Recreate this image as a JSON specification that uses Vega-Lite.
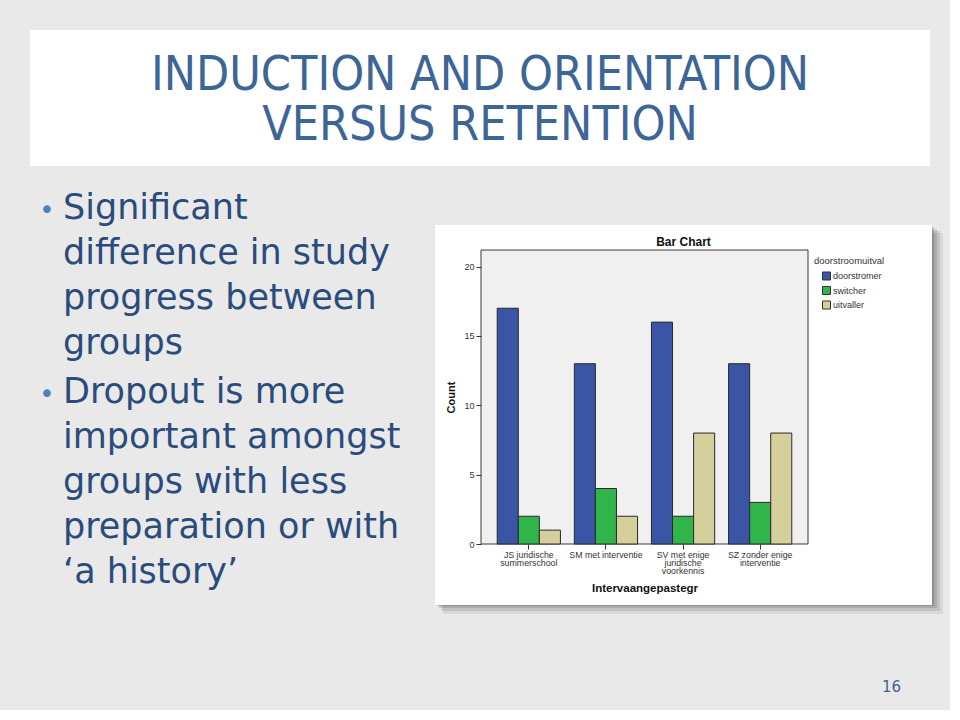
{
  "$schema": "https://vega.github.io/schema/vega-lite/v6.json",
  "background": "#e9e9e9",
  "padding": {"left": 30, "top": 30, "right": 7, "bottom": 15},
  "bounds": "flush",
  "spacing": 84,
  "resolve": {"legend": {"color": "independent"}},
  "title": {"text": "16", "orient": "bottom", "anchor": "end", "fontSize": 15, "font": "DejaVu Sans", "fontWeight": "normal", "color": "#44628f", "dx": -42, "offset": 66},
  "vconcat": [
    {
      "width": 900,
      "height": 136,
      "view": {"fill": "#ffffff", "stroke": null},
      "data": {"values": [{"t": "INDUCTION AND ORIENTATION\nVERSUS RETENTION"}]},
      "mark": {"type": "text", "lineBreak": "\n", "lineHeight": 50, "fontSize": 48, "font": "DejaVu Sans Condensed, Liberation Sans Narrow, sans-serif", "color": "#3d6697", "baseline": "middle", "align": "center", "dy": -22},
      "encoding": {"text": {"field": "t", "type": "nominal"}}
    },
    {
      "bounds": "flush",
      "spacing": 417,
      "resolve": {"legend": {"color": "independent"}},
      "hconcat": [
        {
          "width": 34,
          "height": 294,
          "view": {"stroke": null},
          "data": {"values": [
            {"item": 1, "text": "Significant\ndifference in study\nprogress between\ngroups"},
            {"item": 2, "text": "Dropout is more\nimportant amongst\ngroups with less\npreparation or with\n‘a history’"}
          ]},
          "layer": [
            {
              "mark": {"type": "text", "text": "•", "fontSize": 26, "font": "DejaVu Sans", "color": "#4f81bd", "align": "center", "baseline": "alphabetic"},
              "encoding": {"y": {"field": "item", "type": "ordinal", "scale": {"type": "point", "padding": 0, "range": [-31, 153]}, "axis": null}}
            },
            {
              "mark": {"type": "text", "align": "left", "baseline": "alphabetic", "dx": 16, "fontSize": 35, "lineBreak": "\n", "lineHeight": 45, "font": "DejaVu Sans", "color": "#2a4c7d"},
              "encoding": {
                "y": {"field": "item", "type": "ordinal", "scale": {"type": "point", "padding": 0, "range": [-31, 153]}, "axis": null},
                "text": {"field": "text", "type": "nominal"}
              }
            }
          ]
        },
        {
          "width": 327,
          "height": 294,
          "view": {"stroke": null},
          "title": {"text": "Bar Chart", "fontSize": 12, "fontWeight": "bold", "font": "Liberation Sans", "color": "#111111", "anchor": "middle", "frame": "group", "dx": 39, "offset": -24},
          "layer": [
            {"data": {"values": [{}]}, "mark": {"type": "rect", "fill": "#000000", "opacity": 0.07}, "encoding": {"x": {"value": -38}, "x2": {"value": 462}, "y": {"value": -17}, "y2": {"value": 364}}},
            {"data": {"values": [{}]}, "mark": {"type": "rect", "fill": "#000000", "opacity": 0.1}, "encoding": {"x": {"value": -40}, "x2": {"value": 459}, "y": {"value": -19}, "y2": {"value": 361}}},
            {"data": {"values": [{}]}, "mark": {"type": "rect", "fill": "#000000", "opacity": 0.12}, "encoding": {"x": {"value": -42}, "x2": {"value": 456}, "y": {"value": -21}, "y2": {"value": 358}}},
            {"data": {"values": [{}]}, "mark": {"type": "rect", "fill": "#000000", "opacity": 0.15}, "encoding": {"x": {"value": -44}, "x2": {"value": 453}, "y": {"value": -23}, "y2": {"value": 356}}},
            {"data": {"values": [{}]}, "mark": {"type": "rect", "fill": "#ffffff"}, "encoding": {"x": {"value": -46}, "x2": {"value": 451}, "y": {"value": -25}, "y2": {"value": 355}}},
            {"data": {"values": [{}]}, "mark": {"type": "rect", "fill": "#f0f0f0", "stroke": "#3a3a3a", "strokeWidth": 1}, "encoding": {"x": {"value": 0}, "x2": {"value": 327}, "y": {"value": 0}, "y2": {"value": 294}}},
            {
              "data": {"values": [
                {"group": "JS juridische summerschool", "status": "doorstromer", "count": 17},
                {"group": "JS juridische summerschool", "status": "switcher", "count": 2},
                {"group": "JS juridische summerschool", "status": "uitvaller", "count": 1},
                {"group": "SM met interventie", "status": "doorstromer", "count": 13},
                {"group": "SM met interventie", "status": "switcher", "count": 4},
                {"group": "SM met interventie", "status": "uitvaller", "count": 2},
                {"group": "SV met enige juridische voorkennis", "status": "doorstromer", "count": 16},
                {"group": "SV met enige juridische voorkennis", "status": "switcher", "count": 2},
                {"group": "SV met enige juridische voorkennis", "status": "uitvaller", "count": 8},
                {"group": "SZ zonder enige interventie", "status": "doorstromer", "count": 13},
                {"group": "SZ zonder enige interventie", "status": "switcher", "count": 3},
                {"group": "SZ zonder enige interventie", "status": "uitvaller", "count": 8}
              ]},
              "mark": {"type": "bar", "stroke": "#2a2a2a", "strokeWidth": 1},
              "encoding": {
                "x": {
                  "field": "group", "type": "nominal",
                  "sort": ["JS juridische summerschool", "SM met interventie", "SV met enige juridische voorkennis", "SZ zonder enige interventie"],
                  "scale": {"paddingInner": 0, "paddingOuter": 0.12},
                  "axis": {
                    "zindex": 2,
                    "title": "Intervaangepastegr",
                    "labelAngle": 0,
                    "labelExpr": "datum.value == 'JS juridische summerschool' ? ['JS juridische', 'summerschool'] : datum.value == 'SV met enige juridische voorkennis' ? ['SV met enige', 'juridische', 'voorkennis'] : datum.value == 'SZ zonder enige interventie' ? ['SZ zonder enige', 'interventie'] : datum.label",
                    "labelFontSize": 8.8,
                    "labelLineHeight": 8.3,
                    "labelBaseline": "top",
                    "labelPadding": 1,
                    "tickSize": 5,
                    "domain": false,
                    "titleFontSize": 11.5,
                    "titlePadding": 7
                  }
                },
                "xOffset": {
                  "field": "status", "type": "nominal",
                  "sort": ["doorstromer", "switcher", "uitvaller"],
                  "scale": {"paddingInner": 0, "paddingOuter": 0.33}
                },
                "y": {
                  "field": "count", "type": "quantitative",
                  "scale": {"domain": [0, 21.2], "nice": false, "zero": true},
                  "axis": {"zindex": 2, "title": "Count", "values": [0, 5, 10, 15, 20], "tickSize": 5, "labelFontSize": 9, "labelPadding": 2, "titleFontSize": 11, "titlePadding": 7, "domain": false, "grid": false}
                },
                "color": {
                  "field": "status", "type": "nominal",
                  "scale": {"domain": ["doorstromer", "switcher", "uitvaller"], "range": ["#3b55a6", "#30b54a", "#d5cf9c"]},
                  "legend": {
                    "title": "doorstroomuitval",
                    "orient": "right",
                    "offset": 0,
                    "padding": 6,
                    "symbolType": "square",
                    "symbolSize": 64,
                    "symbolOffset": 8,
                    "symbolStrokeColor": "#333333",
                    "symbolStrokeWidth": 1,
                    "labelFontSize": 9,
                    "labelOffset": 2,
                    "titleFontSize": 9.5,
                    "titleFontWeight": "normal",
                    "titlePadding": 6,
                    "rowPadding": 1.5,
                    "zindex": 2
                  }
                }
              }
            }
          ]
        }
      ]
    }
  ],
  "config": {
    "view": {"stroke": null},
    "axis": {
      "labelFont": "Liberation Sans",
      "titleFont": "Liberation Sans",
      "labelColor": "#333333",
      "titleColor": "#111111",
      "titleFontWeight": "bold",
      "tickColor": "#333333"
    },
    "legend": {
      "labelFont": "Liberation Sans",
      "titleFont": "Liberation Sans",
      "labelColor": "#333333",
      "titleColor": "#333333"
    }
  }
}
